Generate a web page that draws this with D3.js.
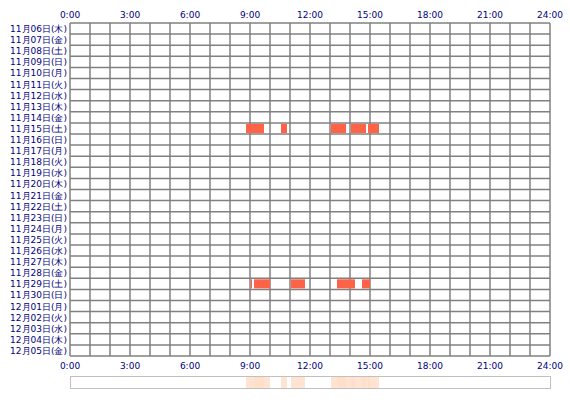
<!DOCTYPE html><html><head><meta charset="utf-8"><script src="https://cdn.jsdelivr.net/npm/d3@7"></script>
<style>body{margin:0;background:#fff}text{font-family:"DejaVu Sans",sans-serif;font-size:9px;fill:#000080}</style></head><body><svg id="c" width="570" height="400"></svg><script>
const days=["11月06日(木)","11月07日(金)","11月08日(土)","11月09日(日)","11月10日(月)","11月11日(火)","11月12日(水)","11月13日(木)","11月14日(金)","11月15日(土)","11月16日(日)","11月17日(月)","11月18日(火)","11月19日(水)","11月20日(木)","11月21日(金)","11月22日(土)","11月23日(日)","11月24日(月)","11月25日(火)","11月26日(水)","11月27日(木)","11月28日(金)","11月29日(土)","11月30日(日)","12月01日(月)","12月02日(火)","12月03日(水)","12月04日(木)","12月05日(金)"];
const tickLabels=["0:00","3:00","6:00","9:00","12:00","15:00","18:00","21:00","24:00"];
const barDays=["11月15日(土)","11月15日(土)","11月15日(土)","11月15日(土)","11月15日(土)","11月29日(土)","11月29日(土)","11月29日(土)","11月29日(土)","11月29日(土)"];
const barStart=[8.8,10.55,13.05,14.05,14.9,9.05,9.2,11.05,13.35,14.6];
const barEnd=[9.7,10.85,13.8,14.8,15.45,9.1,10.0,11.75,14.25,15.0];
const svg=d3.select("#c");
const x=d3.scaleLinear().domain([0,24]).range([70,550]);
const y=d3.scaleBand().domain(days).range([23,356]);
const g=svg.append("g");
days.forEach(d=>g.append("line").attr("x1",70).attr("x2",550).attr("y1",y(d)).attr("y2",y(d)));
g.append("line").attr("x1",70).attr("x2",550).attr("y1",356).attr("y2",356);
d3.range(0,25).forEach(h=>g.append("line").attr("x1",x(h)).attr("x2",x(h)).attr("y1",23).attr("y2",356));
g.selectAll("line").attr("stroke","#808080").attr("stroke-width",1.5);
svg.selectAll(".bar").data(barStart).join("rect").attr("x",(d,i)=>x(d)).attr("width",(d,i)=>x(barEnd[i])-x(d))
 .attr("y",(d,i)=>y(barDays[i])+1).attr("height",y.bandwidth()-2).attr("fill","#ff6347");
svg.selectAll(".ov").data(barStart).join("rect").attr("x",(d,i)=>x(d)).attr("width",(d,i)=>x(barEnd[i])-x(d))
 .attr("y",377).attr("height",11).attr("fill","#ffdcc8").attr("opacity",0.8);
svg.append("rect").attr("x",70.5).attr("y",376.5).attr("width",480).attr("height",12).attr("fill","none").attr("stroke","#c0c0c0");
tickLabels.forEach((t,i)=>{const xx=x(i*3);
 svg.append("text").attr("x",xx).attr("y",18).attr("text-anchor","middle").text(t);
 svg.append("text").attr("x",xx).attr("y",369).attr("text-anchor","middle").text(t);});
days.forEach(d=>svg.append("text").attr("x",67).attr("y",y(d)+y.bandwidth()/2+3.5).attr("text-anchor","end").text(d));
</script></body></html>
